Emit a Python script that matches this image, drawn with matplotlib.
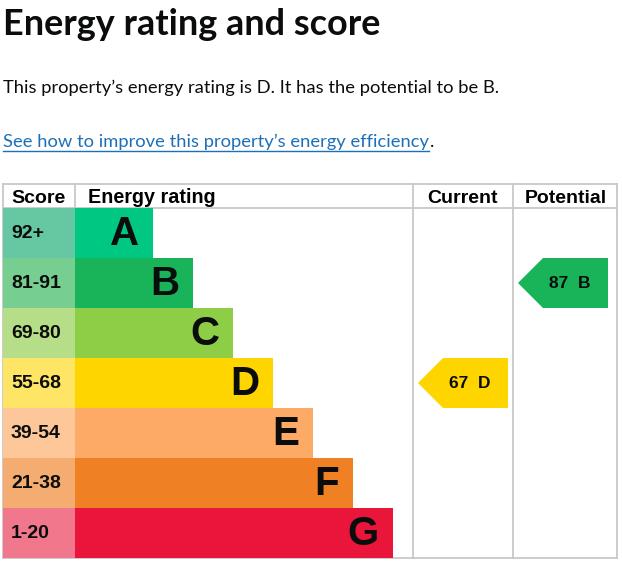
import matplotlib
matplotlib.use("Agg")
import matplotlib.pyplot as plt
from matplotlib.patches import Rectangle, Polygon

# ---- data ----
bands = ["A", "B", "C", "D", "E", "F", "G"]
score_ranges = ["92+", "81-91", "69-80", "55-68", "39-54", "21-38", "1-20"]
bar_colors = ["#00c781", "#19b459", "#8dce46", "#ffd500", "#fcaa65", "#ef8023", "#e9153b"]
score_colors = ["#66c8a3", "#76ce90", "#b6dd88", "#ffe566", "#fdc799", "#f5ac71", "#f1778d"]
current_score = 67
current_band = "D"
potential_score = 87
potential_band = "B"

title = "Energy rating and score"
summary = "This property\u2019s energy rating is D. It has the potential to be B."
link_text = "See how to improve this property\u2019s energy efficiency"

W, H = 622, 583
fig = plt.figure(figsize=(W / 100, H / 100), dpi=100)
ax = fig.add_axes([0, 0, 1, 1])
ax.set_xlim(0, W)
ax.set_ylim(H, 0)
ax.axis("off")

sans = ["Lato", "DejaVu Sans"]
arial = ["Liberation Sans", "DejaVu Sans"]

# header texts
ax.text(3, 35, title, fontsize=25.9, fontweight="bold", family=sans, va="baseline", ha="left", color="#0b0c0c")
ax.text(3, 93, summary, fontsize=13.25, family=sans, va="baseline", ha="left", color="#0b0c0c")
lt = ax.text(3, 147, link_text, fontsize=13.2, family=sans, va="baseline", ha="left", color="#1d70b8")
fig.canvas.draw()
bb = lt.get_window_extent().transformed(ax.transData.inverted())
ax.plot([3, bb.x1], [150.5, 150.5], color="#1d70b8", lw=1)
ax.text(bb.x1 + 0.5, 147, ".", fontsize=13.2, family=sans, va="baseline", ha="left", color="#0b0c0c")

# table geometry
left, score_w, right = 3, 75, 617
col_cur, col_pot = 413, 513
top, head_bot, row_h = 184, 208, 50
bottom = head_bot + row_h * len(bands)
grid = "#c8c8c8"

# header row
ax.text(11, 203, "Score", fontsize=14, fontweight="bold", family=arial, va="baseline", ha="left")
ax.text(88, 203, "Energy rating", fontsize=14.2, fontweight="bold", family=arial, va="baseline", ha="left")
ax.text((col_cur + col_pot) / 2, 203, "Current", fontsize=14, fontweight="bold", family=arial, va="baseline", ha="center")
ax.text((col_pot + right) / 2 + 1, 203, "Potential", fontsize=14, fontweight="bold", family=arial, va="baseline", ha="center")

# rows
for i, (b, sr, bc, sc) in enumerate(zip(bands, score_ranges, bar_colors, score_colors)):
    y0 = head_bot + i * row_h
    bar_end = 153 + 40 * i
    ax.add_patch(Rectangle((left, y0), score_w - left, row_h, facecolor=sc, edgecolor="none", zorder=2))
    ax.add_patch(Rectangle((score_w, y0), bar_end - score_w, row_h, facecolor=bc, edgecolor="none", zorder=2))
    ax.text(11, y0 + row_h / 2, sr, fontsize=14, fontweight="bold", family=arial,
            va="center", ha="left", zorder=3, color="#0b0c0c")
    ax.text(bar_end - 14, y0 + row_h / 2 + 1, b, fontsize=29, fontweight="bold", family=arial,
            va="center", ha="right", zorder=3, color="#0b0c0c")

# grid lines
lw = 1.3
ax.plot([left, right], [top, top], color=grid, lw=lw, zorder=1)
ax.plot([left, right], [head_bot, head_bot], color=grid, lw=lw, zorder=1)
ax.plot([left, right], [bottom, bottom], color=grid, lw=lw, zorder=1)
ax.plot([left, left], [top, bottom], color=grid, lw=lw, zorder=1)
ax.plot([score_w, score_w], [top, head_bot], color=grid, lw=lw, zorder=1)
for x in (col_cur, col_pot, right):
    ax.plot([x, x], [top, bottom], color=grid, lw=lw, zorder=1)


def arrow(col_x, band, score):
    i = bands.index(band)
    y0 = head_bot + i * row_h
    y1 = y0 + row_h
    tip = col_x + 5
    x_rect = col_x + 30
    x_end = col_x + 95
    ax.add_patch(Polygon([(tip, (y0 + y1) / 2), (x_rect, y0), (x_end, y0), (x_end, y1), (x_rect, y1)],
                         closed=True, facecolor=bar_colors[i], edgecolor="none", zorder=2))
    ax.text(col_x + 57, (y0 + y1) / 2 + 1, f"{score}  {band}", fontsize=12.5, fontweight="bold",
            family=arial, va="center", ha="center", zorder=3, color="#0b0c0c")


arrow(col_cur, current_band, current_score)
arrow(col_pot, potential_band, potential_score)

fig.savefig("out.png", dpi=100)
